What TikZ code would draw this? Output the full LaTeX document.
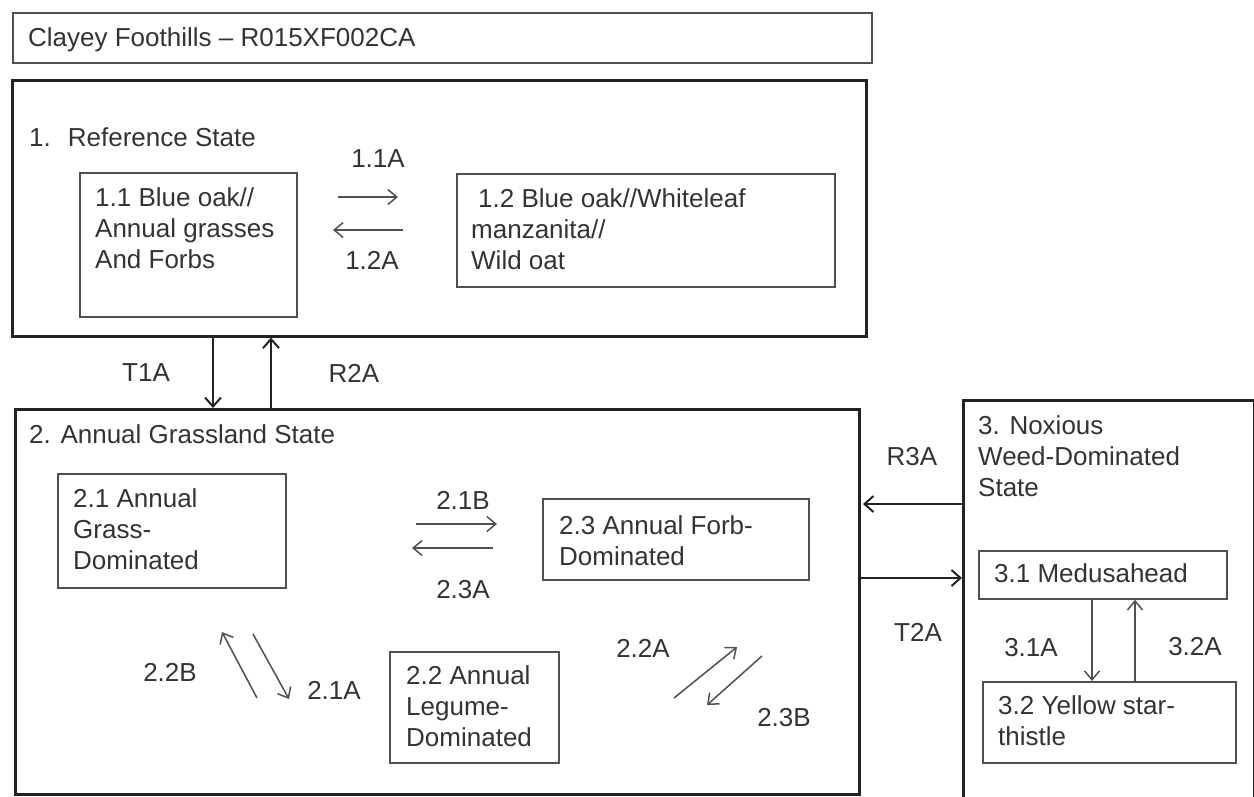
\documentclass[tikz,border=0pt]{standalone}
\usepackage{fontspec}
\setmainfont{Liberation Sans}
\usetikzlibrary{arrows.meta}
\definecolor{txt}{HTML}{333333}
\definecolor{frame}{HTML}{222222}
\definecolor{inner}{HTML}{505050}
\begin{document}
\begin{tikzpicture}[x=1pt,y=-1pt,
  font=\fontsize{26}{31}\selectfont, text=txt,
  statebox/.style={draw=frame, line width=2.6pt, anchor=north west, inner sep=0pt},
  titlebox/.style={draw=inner, line width=1.6pt, anchor=north west, inner sep=0pt},
  innerbox/.style={draw=inner, line width=1.8pt, anchor=north west, inner sep=0pt},
  lbl/.style={inner sep=0pt, anchor=center},
  txtblk/.style={inner sep=0pt, anchor=north west, align=left},
  txtline/.style={inner sep=0pt, anchor=base west},
  bigarr/.style={draw=frame, line width=2.2pt, -{Straight Barb[length=9pt,width=16pt,line width=2pt]}},
  smallarr/.style={draw=inner, line width=1.5pt, -{Straight Barb[length=9pt,width=15pt]}}
]
\useasboundingbox (0,0) rectangle (1254,796);
\clip (0,0) rectangle (1254,796);

% title
\node[titlebox, minimum width=859pt, minimum height=50pt] (title) at (12,12) {};
\node[txtline] (titletxt) at (28,46) {Clayey Foothills – R015XF002CA};

% state 1
\node[statebox, minimum width=854pt, minimum height=256pt] (s1) at (11,79) {};
\node[txtline] (s1txt) at (29,146) {1.\hspace{17pt}Reference State};
\node[innerbox, minimum width=217pt, minimum height=144pt] (b11) at (79,172) {};
\node[txtblk] (t11) at (95,187.5) {1.1 Blue oak//\\Annual grasses\\And Forbs};
\node[innerbox, minimum width=378pt, minimum height=113pt] (b12) at (456,173) {};
\node[txtblk] (t12) at (471,188.5) {\hspace*{7pt}1.2 Blue oak//Whiteleaf\\manzanita//\\Wild oat};

\coordinate (a11s) at (338,197); \coordinate (a11e) at (398,197);
\coordinate (a12s) at (403,230); \coordinate (a12e) at (333,230);
\draw[smallarr] (a11s) -- (a11e);
\draw[smallarr] (a12s) -- (a12e);
\node[lbl] (l11a) at (378,159) {1.1A};
\node[lbl] (l12a) at (372,260) {1.2A};

% state 2
\node[statebox, minimum width=844pt, minimum height=385pt] (s2) at (14,408) {};
\node[txtline] (s2txt) at (29,443) {2. Annual Grassland State};
\node[innerbox, minimum width=228pt, minimum height=114pt] (b21) at (57,473) {};
\node[txtblk] (t21) at (73,488.5) {2.1 Annual\\Grass-\\Dominated};
\node[innerbox, minimum width=266pt, minimum height=81pt] (b23) at (542,498) {};
\node[txtblk] (t23) at (559,515.5) {2.3 Annual Forb-\\Dominated};
\node[innerbox, minimum width=169pt, minimum height=111pt] (b22) at (389,651) {};
\node[txtblk] (t22) at (406,665.5) {2.2 Annual\\Legume-\\Dominated};

\coordinate (a21bs) at (416,524); \coordinate (a21be) at (497,524);
\coordinate (a23as) at (493,548); \coordinate (a23ae) at (412,548);
\draw[smallarr] (a21bs) -- (a21be);
\draw[smallarr] (a23as) -- (a23ae);
\node[lbl] (l21b) at (463,500) {2.1B};
\node[lbl] (l23a) at (463,590) {2.3A};

\coordinate (a22bs) at (257,698); \coordinate (a22be) at (222,632);
\coordinate (a21as) at (253,634); \coordinate (a21ae) at (289,699);
\draw[smallarr] (a22bs) -- (a22be);
\draw[smallarr] (a21as) -- (a21ae);
\node[lbl] (l22b) at (170,672) {2.2B};
\node[lbl] (l21a) at (334,690) {2.1A};

\coordinate (a22as) at (674,698); \coordinate (a22ae) at (737,647);
\coordinate (a23bs) at (762,656); \coordinate (a23be) at (707,705);
\draw[smallarr] (a22as) -- (a22ae);
\draw[smallarr] (a23bs) -- (a23be);
\node[lbl] (l22a) at (643,648) {2.2A};
\node[lbl] (l23b) at (784,718) {2.3B};

% transitions between states 1 and 2
\coordinate (xt1a) at (213,0);
\coordinate (xr2a) at (271,0);
\draw[bigarr] (xt1a |- s1.south) -- (xt1a |- s2.north);
\draw[bigarr] (xr2a |- s2.north) -- (xr2a |- s1.south);
\node[lbl] (lt1a) at (146,373) {T1A};
\node[lbl] (lr2a) at (354,373) {R2A};

% state 3
\node[statebox, minimum width=291pt, minimum height=430pt] (s3) at (962,399) {};
\node[txtblk] (t3) at (978,415.5) {3. Noxious\\Weed-Dominated\\State};
\node[innerbox, minimum width=248pt, minimum height=48pt] (b31) at (978,550) {};
\node[txtline] (t31) at (994,582) {3.1 Medusahead};
\node[innerbox, minimum width=253pt, minimum height=81pt] (b32) at (982,681) {};
\node[txtblk] (t32) at (998,695.5) {3.2 Yellow star-\\thistle};

\coordinate (yr3a) at (0,504);
\coordinate (yt2a) at (0,578);
\coordinate (r3end) at (863,504);
\coordinate (t2start) at (859,578);
\draw[bigarr] (yr3a -| s3.west) -- (r3end);
\draw[bigarr] (t2start) -- (yt2a -| s3.west);
\node[lbl] (lr3a) at (912,457) {R3A};
\node[lbl] (lt2a) at (918,632) {T2A};

\coordinate (x31a) at (1092,0);
\coordinate (x32a) at (1135,0);
\draw[smallarr] (x31a |- b31.south) -- (x31a |- b32.north);
\draw[smallarr] (x32a |- b32.north) -- (x32a |- b31.south);
\node[lbl] (l31a) at (1031,648) {3.1A};
\node[lbl] (l32a) at (1195,647) {3.2A};
\end{tikzpicture}
\end{document}
